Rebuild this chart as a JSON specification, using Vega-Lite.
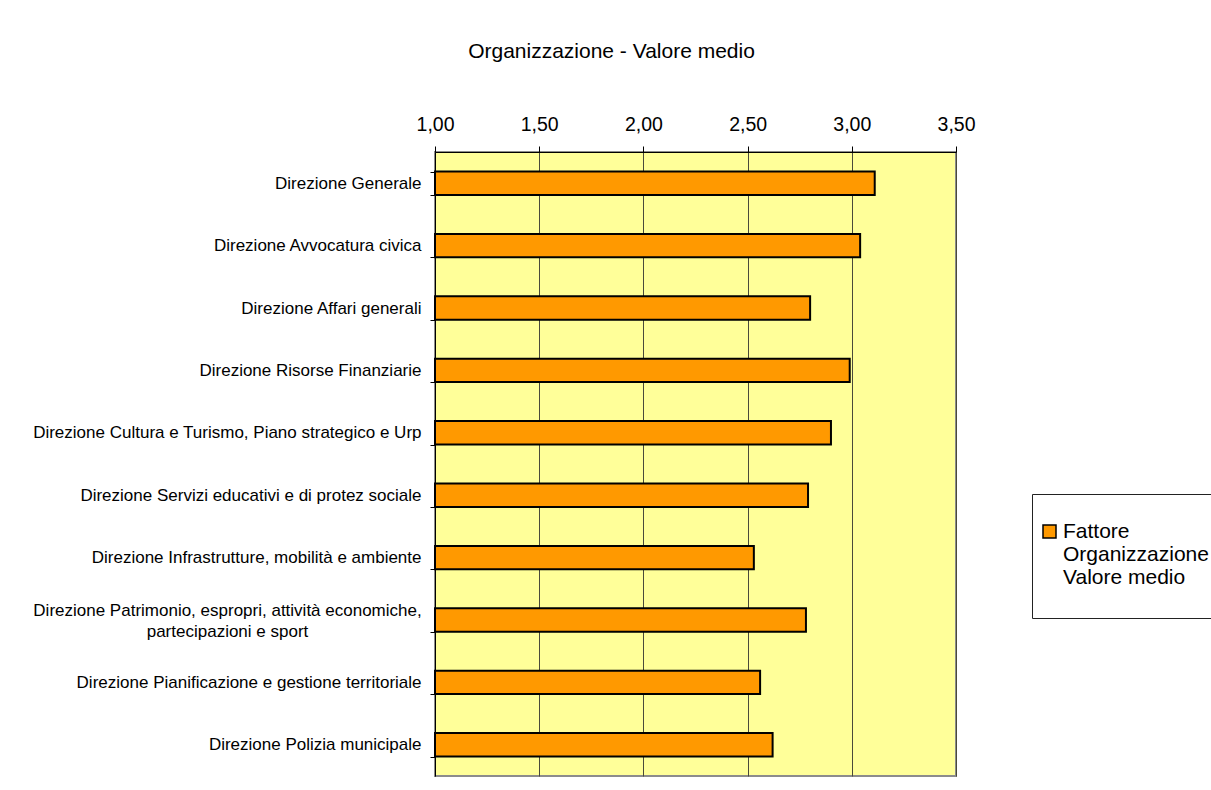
{
  "$schema": "https://vega.github.io/schema/vega-lite/v6.json",
  "width": 521,
  "height": 624,
  "autosize": {"type": "none"},
  "padding": {"left": 435, "top": 152, "right": 255, "bottom": 14},
  "background": "white",
  "title": {
    "text": "Organizzazione  - Valore medio",
    "font": "Liberation Sans",
    "fontSize": 21,
    "fontWeight": "normal",
    "color": "black",
    "anchor": "middle",
    "frame": "group",
    "baseline": "alphabetic",
    "dx": -84,
    "offset": 35
  },
  "data": {
    "values": [
      {"direzione": "Direzione Generale", "valore": 3.11, "serie": "Fattore Organizzazione Valore medio"},
      {"direzione": "Direzione Avvocatura civica", "valore": 3.04, "serie": "Fattore Organizzazione Valore medio"},
      {"direzione": "Direzione Affari generali", "valore": 2.80, "serie": "Fattore Organizzazione Valore medio"},
      {"direzione": "Direzione Risorse Finanziarie", "valore": 2.99, "serie": "Fattore Organizzazione Valore medio"},
      {"direzione": "Direzione Cultura e Turismo, Piano strategico e Urp", "valore": 2.90, "serie": "Fattore Organizzazione Valore medio"},
      {"direzione": "Direzione Servizi educativi e di protez sociale", "valore": 2.79, "serie": "Fattore Organizzazione Valore medio"},
      {"direzione": "Direzione Infrastrutture, mobilità e ambiente", "valore": 2.53, "serie": "Fattore Organizzazione Valore medio"},
      {"direzione": "Direzione Patrimonio, espropri, attività economiche, partecipazioni e sport", "valore": 2.78, "serie": "Fattore Organizzazione Valore medio"},
      {"direzione": "Direzione Pianificazione e gestione territoriale", "valore": 2.56, "serie": "Fattore Organizzazione Valore medio"},
      {"direzione": "Direzione Polizia municipale", "valore": 2.62, "serie": "Fattore Organizzazione Valore medio"}
    ]
  },
  "mark": {"type": "bar", "stroke": "black", "strokeWidth": 2},
  "encoding": {
    "y": {
      "field": "direzione",
      "type": "nominal",
      "sort": null,
      "scale": {"paddingInner": 0.625, "paddingOuter": 0.3125},
      "axis": {
        "title": null,
        "tickBand": "extent",
        "grid": false,
        "domainColor": "black",
        "domainWidth": 1,
        "tickColor": "black",
        "tickSize": 5,
        "labelFont": "Liberation Sans",
        "labelFontSize": 17,
        "labelColor": "black",
        "labelLimit": 600,
        "labelLineHeight": 21,
        "labelPadding": {"condition": {"test": "test(/Patrimonio/, datum.value + '')", "value": 203}, "value": 9},
        "labelAlign": {"condition": {"test": "test(/Patrimonio/, datum.value + '')", "value": "center"}, "value": "right"},
        "labelOffset": {"condition": {"test": "test(/Patrimonio/, datum.value + '')", "value": -10}, "value": 0},
        "labelExpr": "test(/Patrimonio/, datum.value + '') ? ['Direzione Patrimonio, espropri, attività economiche,', 'partecipazioni e sport'] : datum.value"
      }
    },
    "x": {
      "field": "valore",
      "type": "quantitative",
      "scale": {"domain": [1, 3.5], "zero": false, "nice": false},
      "axis": {
        "title": null,
        "orient": "top",
        "values": [1, 1.5, 2, 2.5, 3, 3.5],
        "labelExpr": "replace(format(datum.value, '.2f'), '.', ',')",
        "grid": true,
        "gridColor": "#4a4a3a",
        "gridWidth": 1,
        "domainColor": "black",
        "tickColor": "black",
        "tickSize": 6,
        "labelPadding": 12,
        "labelFont": "Liberation Sans",
        "labelFontSize": 19.5,
        "labelColor": "black",
        "labelFlush": false
      }
    },
    "x2": {"datum": 1},
    "fill": {
      "field": "serie",
      "type": "nominal",
      "scale": {"range": ["#FF9900"]},
      "legend": {
        "title": ".",
        "titleFontSize": 4,
        "titleColor": "white",
        "titlePadding": 16,
        "orient": "none",
        "legendX": 597,
        "legendY": 342,
        "padding": 7,
        "fillColor": "white",
        "strokeColor": "#222222",
        "symbolType": "square",
        "symbolSize": 169,
        "symbolStrokeColor": "black",
        "symbolStrokeWidth": 1.5,
        "symbolOpacity": 1,
        "labelFont": "Liberation Sans",
        "labelFontSize": 21,
        "labelColor": "black",
        "labelBaseline": "middle",
        "labelOffset": 3,
        "labelLimit": 400,
        "labelExpr": "['Fattore', 'Organizzazione', 'Valore medio', ' ']"
      }
    }
  },
  "config": {
    "view": {"fill": "#FFFF99", "stroke": "#8c8c8c", "strokeWidth": 2},
    "font": "Liberation Sans"
  }
}
